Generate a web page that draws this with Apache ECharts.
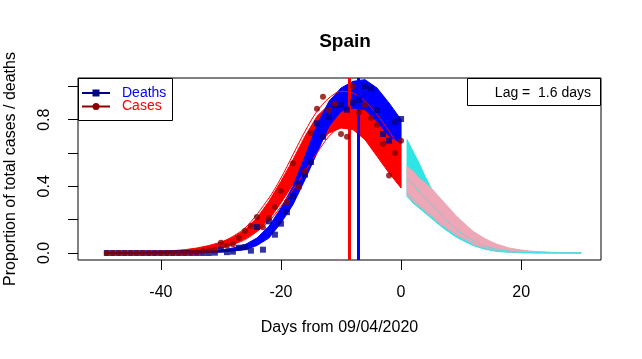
<!DOCTYPE html>
<html>
<head>
<meta charset="utf-8">
<script src="https://cdn.jsdelivr.net/npm/echarts@6/dist/echarts.min.js"></script>
<style>
html, body { margin: 0; padding: 0; background: #fff; }
#chart { width: 642px; height: 359px; }
</style>
</head>
<body>
<div id="chart"></div>
<script>
// observed daily values (proportion of max)
var days = [-49, -48, -47, -46, -45, -44, -43, -42, -41, -40, -39, -38, -37, -36, -35, -34, -33, -32, -31, -30,
	-29, -28, -27, -26, -25, -24, -23, -22, -21, -20, -19, -18, -17, -16, -15, -14, -13, -12, -11, -10,
	-9, -8, -7, -6, -5, -4, -3, -2, -1, 0];
var casesObs = [0, 0, 0, 0, 0, 0, 0, 0, 0, 0, 0, 0, 0, 0, 0.003, 0.005, 0.012, 0.016, 0.02, 0.062,
	0.044, 0.052, 0.09, 0.132, 0.162, 0.216, 0.154, 0.212, 0.276, 0.372, 0.305, 0.538, 0.395, 0.49, 0.72, 0.866, 0.938, 0.858, 0.896, 0.714,
	0.698, 1.0, 0.844, 0.888, 0.812, 0.768, 0.655, 0.465, 0.6, 0.674];
var deathsObs = [0, 0, 0, 0, 0, 0, 0, 0, 0, 0, 0, 0, 0, 0, 0, 0, 0, 0, 0.002, 0.02,
	0.005, 0.008, 0.032, 0.035, 0.014, 0.156, 0.02, 0.19, 0.11, 0.176, 0.245, 0.342, 0.415, 0.47, 0.546, 0.778, 0.697, 0.815, 0.886, 0.889,
	0.86, 0.902, 0.919, 1.0, 0.988, 0.858, 0.714, 0.674, 0.787, 0.804];

// envelopes of the fitted curves
var fitDays = [-49, -44, -40, -36, -34, -32, -30, -28, -26, -24, -22, -20, -18, -16, -14, -12, -10, -8, -6, -4, -2, 0];
var casesHi = [0, 0.003, 0.008, 0.02, 0.03, 0.045, 0.065, 0.095, 0.14, 0.21, 0.31, 0.43, 0.56, 0.7, 0.82, 0.89, 0.92, 0.92, 0.9, 0.84, 0.75, 0.67];
var casesLo = [0, 0, 0.002, 0.006, 0.011, 0.018, 0.03, 0.05, 0.085, 0.13, 0.2, 0.3, 0.41, 0.53, 0.64, 0.72, 0.75, 0.74, 0.68, 0.58, 0.48, 0.39];
var deathsHi = [0, 0.001, 0.002, 0.005, 0.008, 0.012, 0.018, 0.03, 0.05, 0.09, 0.16, 0.27, 0.4, 0.58, 0.77, 0.91, 0.99, 1.03, 1.04, 0.99, 0.9, 0.8];
var deathsLo = [0, 0, 0, 0, 0, 0.003, 0.006, 0.012, 0.02, 0.045, 0.09, 0.18, 0.29, 0.44, 0.6, 0.76, 0.85, 0.87, 0.86, 0.79, 0.7, 0.66];

// a few single fitted curves that stand out of the band
var thinDays = [-30, -26, -22, -20, -18, -16, -14, -12, -10, -8, -6, -4, -2, 0];
var casesFitHigh = [0.06, 0.15, 0.33, 0.45, 0.59, 0.73, 0.85, 0.93, 0.97, 0.96, 0.91, 0.83, 0.73, 0.62];
var casesFitLow = [0.03, 0.08, 0.19, 0.28, 0.38, 0.49, 0.6, 0.7, 0.76, 0.78, 0.76, 0.7, 0.62, 0.53];

// projections after day 0
var predDays = [1, 2, 3, 4, 5, 6, 7, 8, 9, 10, 12, 14, 16, 18, 20, 22, 25, 30];
var deathsPredHi = [0.68, 0.61, 0.54, 0.46, 0.39, 0.335, 0.285, 0.24, 0.195, 0.16, 0.1, 0.062, 0.038, 0.022, 0.012, 0.007, 0.003, 0.001];
var deathsPredLo = [0.34, 0.3, 0.27, 0.24, 0.21, 0.18, 0.15, 0.125, 0.1, 0.08, 0.045, 0.022, 0.009, 0.004, 0.002, 0.001, 0, 0];
var casesPredHi = [0.52, 0.49, 0.45, 0.42, 0.39, 0.35, 0.31, 0.27, 0.23, 0.195, 0.13, 0.085, 0.052, 0.03, 0.018, 0.01, 0.004, 0.001];
var casesPredLo = [0.35, 0.31, 0.28, 0.25, 0.22, 0.19, 0.16, 0.135, 0.11, 0.09, 0.052, 0.028, 0.013, 0.006, 0.003, 0.0015, 0.0005, 0];
var deathsPredMid = [0.45, 0.41, 0.37, 0.33, 0.29, 0.255, 0.22, 0.18, 0.15, 0.12, 0.075, 0.042, 0.022, 0.011, 0.005, 0.002, 0.001, 0];
var deathsPredLow = [0.36, 0.32, 0.285, 0.255, 0.225, 0.195, 0.165, 0.14, 0.115, 0.093, 0.055, 0.03, 0.014, 0.007, 0.003, 0.002, 0.001, 0];

var casesPeak = -8.7;
var deathsPeak = -7.1;
var lagDays = 1.6;

var xTicks = [-40, -20, 0, 20];
var yTicks = [0, 0.2, 0.4, 0.6, 0.8, 1.0];
var yLabels = [0, 0.4, 0.8];

var FONT = 'Liberation Sans, Arial, sans-serif';

function pairs(xs, ys) {
	var out = [];
	for (var i = 0; i < xs.length; i++) out.push([xs[i], ys[i]]);
	return out;
}

// filled band between lower and upper curve
function band(xs, lo, hi, color, z) {
	return {
		type : 'custom',
		z : z,
		silent : true,
		clip : true,
		data : [[xs[0], lo[0]]],
		renderItem : function(params, api) {
			var pts = [];
			for (var i = 0; i < xs.length; i++) pts.push(api.coord([xs[i], hi[i]]));
			for (var j = xs.length - 1; j >= 0; j--) pts.push(api.coord([xs[j], lo[j]]));
			return {
				type : 'polygon',
				shape : { points : pts },
				style : { fill : color, stroke : color, lineWidth : 1 }
			};
		}
	};
}

function thin(xs, ys, color, type, z) {
	return {
		type : 'line',
		z : z,
		silent : true,
		smooth : 0.3,
		showSymbol : false,
		data : pairs(xs, ys),
		lineStyle : { color : color, width : 1, type : type || 'solid' }
	};
}

var chart = echarts.init(document.getElementById('chart'));
chart.setOption({
	animation : false,
	backgroundColor : '#fff',
	title : {
		text : 'Spain',
		left : 340,
		top : 27,
		textAlign : 'center',
		textStyle : { fontFamily : FONT, fontSize : 19, fontWeight : 'bold', color : '#000' }
	},
	grid : {
		left : 78, top : 78, width : 523, height : 182,
		outerBoundsMode : 'none',
		containLabel : false,
		show : true, borderColor : '#000', borderWidth : 1, backgroundColor : '#fff'
	},
	xAxis : {
		type : 'value',
		min : -53.8,
		max : 33.3,
		name : 'Days from 09/04/2020',
		nameLocation : 'middle',
		nameGap : 60,
		nameTextStyle : { fontFamily : FONT, fontSize : 16, color : '#000' },
		splitLine : { show : false },
		axisLine : { show : false, onZero : false },
		axisTick : { show : true, length : 10, customValues : xTicks, lineStyle : { color : '#000' } },
		axisLabel : { customValues : xTicks, margin : 25, fontFamily : FONT, fontSize : 16, color : '#000' }
	},
	yAxis : {
		type : 'value',
		min : -0.042,
		max : 1.05,
		name : 'Proportion of total cases / deaths',
		nameLocation : 'middle',
		nameGap : 59,
		nameTextStyle : { fontFamily : FONT, fontSize : 16, color : '#000' },
		splitLine : { show : false },
		axisLine : { show : false, onZero : false },
		axisTick : { show : true, length : 10, customValues : yTicks, lineStyle : { color : '#000' } },
		axisLabel : {
			customValues : yLabels, rotate : 90, margin : 25,
			fontFamily : FONT, fontSize : 16, color : '#000',
			formatter : function(v) { return v.toFixed(1); }
		}
	},
	series : [
		band(fitDays, casesLo, casesHi, '#ff0000', 2),
		band(fitDays, deathsLo, deathsHi, '#0000ff', 3),
		thin(thinDays, casesFitHigh, '#ff0000', 'solid', 4),
		thin(thinDays, casesFitLow, '#ff0000', 'solid', 4),
		band(predDays, deathsPredLo, deathsPredHi, '#2ee4e4', 2),
		band(predDays, casesPredLo, casesPredHi, '#eea7b6', 3),
		thin(predDays, deathsPredMid, '#2ee4e4', 'dotted', 4),
		thin(predDays, deathsPredLow, '#2ee4e4', 'dotted', 4),
		{
			type : 'line',
			z : 5,
			data : [],
			markLine : {
				silent : true,
				symbol : 'none',
				label : { show : false },
				animation : false,
				data : [
					{ xAxis : casesPeak, lineStyle : { color : '#ff0000', width : 3, type : 'solid' } },
					{ xAxis : deathsPeak, lineStyle : { color : '#0000ff', width : 3, type : 'solid' } }
				]
			}
		},
		{
			name : 'Deaths',
			type : 'scatter',
			z : 6,
			symbol : 'rect',
			symbolSize : 6,
			itemStyle : { color : '#00008b' },
			data : pairs(days, deathsObs)
		},
		{
			name : 'Cases',
			type : 'scatter',
			z : 7,
			symbol : 'circle',
			symbolSize : 6,
			itemStyle : { color : '#8b0000' },
			data : pairs(days, casesObs)
		}
	],
	graphic : [
		{ type : 'rect', z : 100, shape : { x : 78.5, y : 78.5, width : 94, height : 42 }, style : { fill : '#fff', stroke : '#000', lineWidth : 1 } },
		{ type : 'line', z : 101, shape : { x1 : 82, y1 : 93, x2 : 110, y2 : 93 }, style : { stroke : '#00008b', lineWidth : 2 } },
		{ type : 'rect', z : 102, shape : { x : 92.5, y : 89.5, width : 7, height : 7 }, style : { fill : '#00008b' } },
		{ type : 'text', z : 102, x : 122, y : 93, style : { text : 'Deaths', fill : '#0000ff', font : '14px ' + FONT, verticalAlign : 'middle' } },
		{ type : 'line', z : 101, shape : { x1 : 82, y1 : 106.5, x2 : 110, y2 : 106.5 }, style : { stroke : '#8b0000', lineWidth : 2 } },
		{ type : 'circle', z : 102, shape : { cx : 96, cy : 106.5, r : 3.5 }, style : { fill : '#8b0000' } },
		{ type : 'text', z : 102, x : 122, y : 106.5, style : { text : 'Cases', fill : '#ff0000', font : '14px ' + FONT, verticalAlign : 'middle' } },
		{ type : 'rect', z : 100, shape : { x : 467.5, y : 78.5, width : 133, height : 27 }, style : { fill : '#fff', stroke : '#000', lineWidth : 1 } },
		{ type : 'text', z : 102, x : 591, y : 93, style : { text : 'Lag =  ' + lagDays.toFixed(1) + ' days', fill : '#000', font : '14px ' + FONT, align : 'right', verticalAlign : 'middle' } }
	]
});
</script>
</body>
</html>
